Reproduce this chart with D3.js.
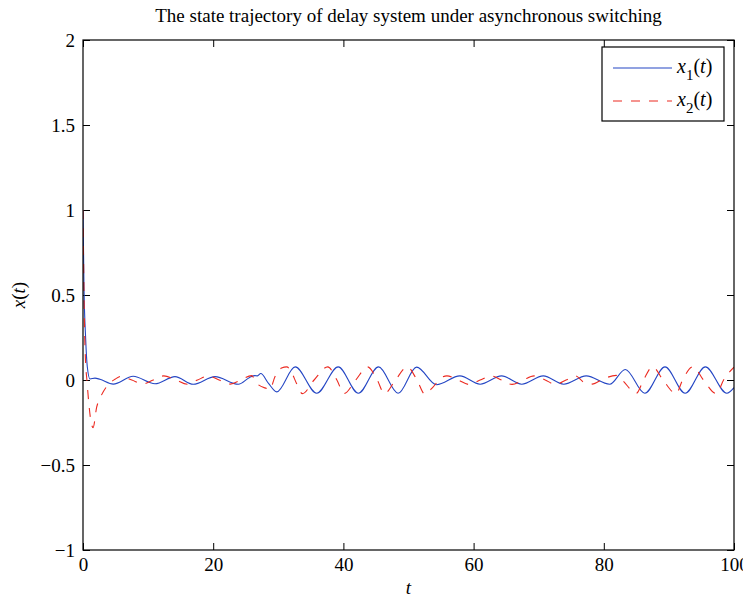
<!DOCTYPE html>
<html>
<head>
<meta charset="utf-8">
<script src="https://cdn.jsdelivr.net/npm/d3@7"></script>
<style>
  body { margin: 0; background: #fff; overflow: hidden; }
  svg text { font-family: "Liberation Serif", "Times New Roman", serif; }
</style>
</head>
<body>
<script>
// data: [t, value] at extremes / crossings
var x1Points = [
  [0, 1.0], [0.15, 0.55], [0.4, 0.25], [0.66, 0.078], [1.07, 0.006], [1.84, 0.011], [2.6, 0.004],
  [4.65, -0.024], [7.7, 0.022], [11.06, -0.022], [14.13, 0.02], [16.94, -0.025], [20.28, 0.02],
  [23.86, -0.025], [25.6, 0.015], [26.4, 0.026], [26.8, 0.024], [27.3, 0.038], [28.5, -0.02],
  [29.75, -0.07], [32.6, 0.077], [35.9, -0.078], [39.2, 0.077], [42.3, -0.078], [45.4, 0.077],
  [48.4, -0.078], [51.25, 0.076], [54.3, -0.028], [57.9, 0.024], [61.0, -0.025], [64.3, 0.024],
  [67.4, -0.025], [70.7, 0.024], [73.85, -0.025], [77.3, 0.024], [80.9, -0.025], [83.3, 0.062],
  [86.3, -0.078], [89.4, 0.077], [92.5, -0.078], [95.6, 0.077], [98.9, -0.078], [100, -0.045]
];

var x2Points = [
  [0, 1.0], [0.12, 0.6], [0.25, 0.28], [0.4, 0.1], [0.6, 0.0], [0.9, -0.14], [1.25, -0.25],
  [1.55, -0.28], [2.1, -0.16], [2.7, -0.1], [3.6, -0.04], [4.9, 0.004], [5.8, 0.021], [7.5, 0],
  [9.2, -0.023], [10.8, 0], [12.4, 0.024], [14.3, 0], [16.0, -0.025], [17.6, 0], [19.2, 0.024],
  [20.9, 0], [22.6, -0.024], [24.2, 0], [25.9, 0.026], [26.7, -0.02], [28.2, -0.05], [28.7, -0.056],
  [29.5, 0.02], [30.5, 0.07], [31.3, 0.077], [32.1, 0.04], [32.8, -0.02], [33.7, -0.08], [35.5, 0],
  [37.6, 0.077], [39.0, 0], [40.1, -0.08], [41.9, 0], [43.7, 0.077], [45.2, 0], [46.3, -0.08],
  [48.0, 0], [49.8, 0.077], [51.3, 0], [52.5, -0.082], [53.8, -0.04], [55.0, 0.012], [55.9, 0.024],
  [57.6, 0], [59.3, -0.026], [61.0, 0], [62.7, 0.024], [64.3, 0], [65.9, -0.026], [67.6, 0],
  [69.3, 0.024], [71.0, 0], [72.6, -0.026], [74.2, 0], [75.7, 0.024], [76.8, -0.01], [78.2, -0.024],
  [79.9, 0.006], [81.9, 0.027], [82.8, 0], [85.0, -0.078], [86.1, 0], [87.5, 0.078], [89.1, 0],
  [91.1, -0.08], [92.1, 0], [93.7, 0.078], [95.3, 0], [97.3, -0.08], [98.4, 0], [100, 0.075]
];

var xTicks = [0, 20, 40, 60, 80, 100];
var yTicks = [-1, -0.5, 0, 0.5, 1, 1.5, 2];
var yTickLabels = ["\u22121", "\u22120.5", "0", "0.5", "1", "1.5", "2"];

var width = 743, height = 600;
var margin = { top: 40, right: 9, bottom: 50, left: 83 };
var plotW = width - margin.left - margin.right;
var plotH = height - margin.top - margin.bottom;
var serif = "'Liberation Serif', 'Times New Roman', serif";

var svg = d3.select("body").append("svg")
  .attr("width", width)
  .attr("height", height)
  .attr("font-family", serif);

var x = d3.scaleLinear().domain([0, 100]).range([margin.left, margin.left + plotW]);
var y = d3.scaleLinear().domain([-1, 2]).range([margin.top + plotH, margin.top]);

svg.append("defs").append("clipPath").attr("id", "clip")
  .append("rect")
  .attr("x", margin.left).attr("y", margin.top)
  .attr("width", plotW).attr("height", plotH);

// title
svg.append("text")
  .attr("x", margin.left + plotW / 2)
  .attr("y", 22)
  .attr("text-anchor", "middle")
  .style("font-size", "19px")
  .text("The state trajectory of delay system under asynchronous switching");

// axes (ticks point inward)
var tickLen = 7;
var bottomAxis = svg.append("g")
  .attr("transform", "translate(0," + (margin.top + plotH) + ")")
  .call(d3.axisBottom(x).tickValues(xTicks).tickSize(-tickLen).tickSizeOuter(0).tickPadding(8)
    .tickFormat(d3.format("d")));
var topAxis = svg.append("g")
  .attr("transform", "translate(0," + margin.top + ")")
  .call(d3.axisTop(x).tickValues(xTicks).tickSize(-tickLen).tickSizeOuter(0).tickFormat(""));
var leftAxis = svg.append("g")
  .attr("transform", "translate(" + margin.left + ",0)")
  .call(d3.axisLeft(y).tickValues(yTicks).tickSize(-tickLen).tickSizeOuter(0).tickPadding(8)
    .tickFormat(function(d, i) { return yTickLabels[i]; }));
var rightAxis = svg.append("g")
  .attr("transform", "translate(" + (margin.left + plotW) + ",0)")
  .call(d3.axisRight(y).tickValues(yTicks).tickSize(-tickLen).tickSizeOuter(0).tickFormat(""));

[bottomAxis, topAxis, leftAxis, rightAxis].forEach(function(g) {
  g.attr("font-family", serif).attr("font-size", 19);
  g.select(".domain").remove();
  g.selectAll("line").attr("stroke", "#000").attr("stroke-width", 1);
  g.selectAll("text").attr("fill", "#000");
});

// curves
var line = d3.line()
  .x(function(d) { return x(d[0]); })
  .y(function(d) { return y(d[1]); })
  .curve(d3.curveMonotoneX);

var plot = svg.append("g").attr("clip-path", "url(#clip)");

plot.append("path")
  .datum(x1Points)
  .attr("d", line)
  .attr("fill", "none")
  .attr("stroke", "#2446c4")
  .attr("stroke-width", 1.1);

plot.append("path")
  .datum(x2Points)
  .attr("d", line)
  .attr("fill", "none")
  .attr("stroke", "#ec2a20")
  .attr("stroke-width", 1.1)
  .attr("stroke-dasharray", "9,9");

// box
svg.append("rect")
  .attr("x", margin.left).attr("y", margin.top)
  .attr("width", plotW).attr("height", plotH)
  .attr("fill", "none")
  .attr("stroke", "#000")
  .attr("stroke-width", 1.2);

// axis labels
var ylab = svg.append("text")
  .attr("transform", "translate(25," + (margin.top + plotH / 2) + ") rotate(-90)")
  .attr("text-anchor", "middle")
  .style("font-size", "19px");
ylab.append("tspan").style("font-style", "italic").text("x");
ylab.append("tspan").text("(");
ylab.append("tspan").style("font-style", "italic").text("t");
ylab.append("tspan").text(")");

svg.append("text")
  .attr("x", margin.left + plotW / 2)
  .attr("y", 594)
  .attr("text-anchor", "middle")
  .style("font-size", "19px")
  .style("font-style", "italic")
  .text("t");

// legend
var legend = svg.append("g");
legend.append("rect")
  .attr("x", 602).attr("y", 47)
  .attr("width", 122).attr("height", 74)
  .attr("fill", "#fff")
  .attr("stroke", "#000")
  .attr("stroke-width", 1.2);

var legendItems = [
  { sub: "1", color: "#2446c4", dash: null, ly: 68 },
  { sub: "2", color: "#ec2a20", dash: "9,9", ly: 101 }
];

legendItems.forEach(function(it) {
  legend.append("line")
    .attr("x1", 613).attr("x2", 672)
    .attr("y1", it.ly).attr("y2", it.ly)
    .attr("stroke", it.color)
    .attr("stroke-width", 1.1)
    .attr("stroke-dasharray", it.dash);
  var t = legend.append("text")
    .attr("x", 677).attr("y", it.ly + 5)
    .style("font-size", "20px");
  t.append("tspan").style("font-style", "italic").text("x");
  t.append("tspan").attr("dy", 7).style("font-size", "15px").text(it.sub);
  t.append("tspan").attr("dy", -7).text("(");
  t.append("tspan").style("font-style", "italic").text("t");
  t.append("tspan").text(")");
});
</script>
</body>
</html>
